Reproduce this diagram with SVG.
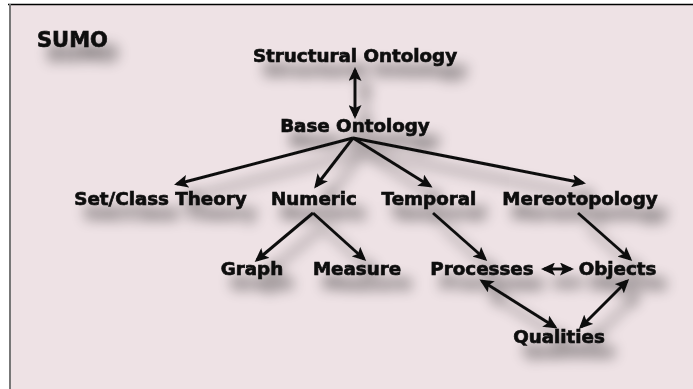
<svg xmlns="http://www.w3.org/2000/svg" width="693" height="389" viewBox="0 0 693 389">
  <defs>
    <style>
      .lbl { font-family: "DejaVu Sans", Verdana, sans-serif; font-weight: bold; font-size: 18.3px; fill: #111; stroke: #111; stroke-width: 0.7px; text-anchor: middle; }
      .title { font-family: "DejaVu Sans", Verdana, sans-serif; font-weight: bold; font-size: 21px; fill: #111; stroke: #111; stroke-width: 0.7px; }
      .edge { stroke: #111; stroke-width: 3; fill: none; }
      .one { marker-end: url(#head); }
      .two { marker-start: url(#head); marker-end: url(#head); }
    </style>
    <marker id="head" viewBox="0 0 14 13" refX="11" refY="6.5" markerWidth="14" markerHeight="13" markerUnits="userSpaceOnUse" orient="auto-start-reverse">
      <path d="M0,0 L14,6.5 L0,13 L3,6.5 z" fill="#111"/>
    </marker>
    <filter id="drop" x="-10%" y="-20%" width="130%" height="170%">
      <feGaussianBlur in="SourceAlpha" stdDeviation="7"/>
      <feOffset dx="10" dy="14" result="blur"/>
      <feComponentTransfer>
        <feFuncA type="linear" slope="0.6"/>
      </feComponentTransfer>
      <feMerge>
        <feMergeNode/>
        <feMergeNode in="SourceGraphic"/>
      </feMerge>
    </filter>
  </defs>

  <!-- page and panel frame -->
  <rect x="0" y="0" width="693" height="389" fill="#ffffff"/>
  <rect x="10" y="5" width="683" height="384" fill="#eee2e5"/>
  <line x1="8" y1="4.5" x2="693" y2="4.5" stroke="#000" stroke-width="1.5"/>
  <line x1="10" y1="4" x2="10" y2="389" stroke="#777" stroke-width="2"/>

  <g filter="url(#drop)">
    <g id="title"><text class="title" x="37" y="47">SUMO</text></g>

    <g id="connectors">
      <line class="edge two" x1="355" y1="70" x2="355" y2="116"/>
      <line class="edge one" x1="353" y1="138" x2="177" y2="184"/>
      <line class="edge one" x1="353" y1="138" x2="316" y2="186"/>
      <line class="edge one" x1="353" y1="138" x2="430" y2="186"/>
      <line class="edge one" x1="353" y1="138" x2="583" y2="183"/>
      <line class="edge one" x1="313" y1="213" x2="257" y2="260"/>
      <line class="edge one" x1="313" y1="213" x2="364" y2="259"/>
      <line class="edge one" x1="433" y1="213" x2="485" y2="259"/>
      <line class="edge one" x1="578" y1="213" x2="630" y2="259"/>
      <line class="edge two" x1="544" y1="269" x2="571" y2="269"/>
      <line class="edge two" x1="482" y1="281" x2="555" y2="327"/>
      <line class="edge two" x1="627" y1="281" x2="581" y2="327"/>
    </g>

    <g id="structural"><text class="lbl" x="355" y="62">Structural Ontology</text></g>
    <g id="base"><text class="lbl" x="355" y="132">Base Ontology</text></g>
    <g id="setclass"><text class="lbl" x="160.5" y="205">Set/Class Theory</text></g>
    <g id="numeric"><text class="lbl" x="314" y="205">Numeric</text></g>
    <g id="temporal"><text class="lbl" x="429" y="205">Temporal</text></g>
    <g id="mereotopology"><text class="lbl" x="580" y="205">Mereotopology</text></g>
    <g id="graph"><text class="lbl" x="252" y="275">Graph</text></g>
    <g id="measure"><text class="lbl" x="357" y="275">Measure</text></g>
    <g id="processes"><text class="lbl" x="482" y="275">Processes</text></g>
    <g id="objects"><text class="lbl" x="617.5" y="275">Objects</text></g>
    <g id="qualities"><text class="lbl" x="559" y="343">Qualities</text></g>
  </g>
</svg>
